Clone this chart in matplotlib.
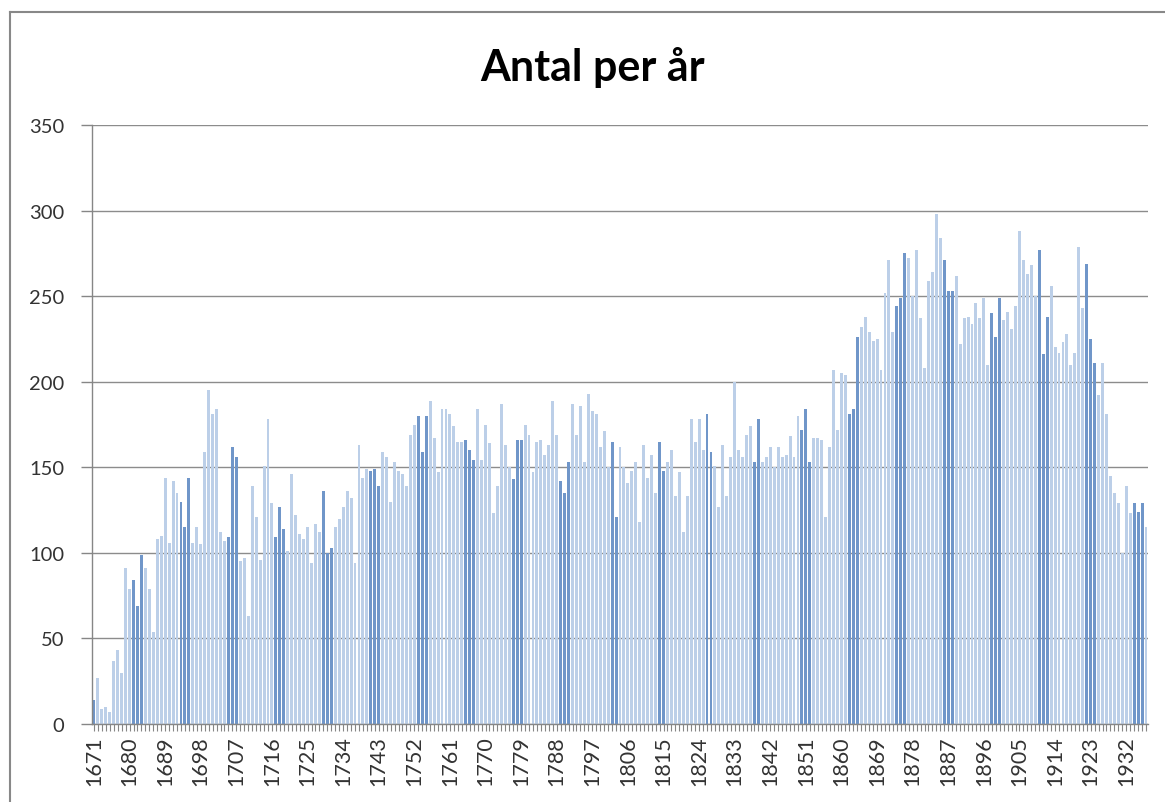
import matplotlib
matplotlib.use("Agg")
import matplotlib.pyplot as plt
from matplotlib.lines import Line2D

years = list(range(1671, 1938))
counts = [
    14, 27, 9, 10, 7, 37, 43, 30, 91, 79,            # 1671-1680
    84, 69, 99, 91, 79, 54, 108, 110, 144, 106,      # 1681-1690
    142, 135, 130, 115, 144, 106, 115, 105, 159, 195,  # 1691-1700
    181, 184, 112, 107, 109, 162, 156, 95, 97, 63,   # 1701-1710
    139, 121, 96, 151, 178, 129, 109, 127, 114, 101,  # 1711-1720
    146, 122, 111, 108, 115, 94, 117, 112, 136, 100,  # 1721-1730
    103, 115, 120, 127, 136, 132, 94, 163, 144, 149,  # 1731-1740
    148, 149, 139, 159, 156, 130, 153, 148, 146, 139,  # 1741-1750
    169, 175, 180, 159, 180, 189, 167, 147, 184, 184,  # 1751-1760
    181, 174, 165, 165, 166, 160, 154, 184, 154, 175,  # 1761-1770
    164, 123, 139, 187, 163, 150, 143, 166, 166, 175,  # 1771-1780
    169, 147, 165, 166, 157, 163, 189, 169, 142, 135,  # 1781-1790
    153, 187, 169, 186, 153, 193, 183, 181, 162, 171,  # 1791-1800
    150, 165, 121, 162, 150, 141, 148, 153, 118, 163,  # 1801-1810
    144, 157, 135, 165, 148, 153, 160, 133, 147, 112,  # 1811-1820
    133, 178, 165, 178, 160, 181, 159, 151, 127, 163,  # 1821-1830
    133, 156, 200, 160, 156, 169, 174, 153, 178, 153,  # 1831-1840
    156, 162, 150, 162, 156, 157, 168, 156, 180, 172,  # 1841-1850
    184, 153, 167, 167, 166, 121, 162, 207, 172, 205,  # 1851-1860
    204, 181, 184, 226, 232, 238, 229, 224, 225, 207,  # 1861-1870
    252, 271, 229, 244, 249, 275, 272, 250, 277, 237,  # 1871-1880
    208, 259, 264, 298, 284, 271, 253, 253, 262, 222,  # 1881-1890
    237, 238, 234, 246, 237, 249, 210, 240, 226, 249,  # 1891-1900
    236, 241, 231, 244, 288, 271, 263, 268, 250, 277,  # 1901-1910
    216, 238, 256, 220, 217, 223, 228, 210, 217, 279,  # 1911-1920
    243, 269, 225, 211, 192, 211, 181, 145, 135, 129,  # 1921-1930
    100, 139, 123, 129, 124, 129, 115,               # 1931-1937
]
tick_years = years[::9]
y_ticks = [0, 50, 100, 150, 200, 250, 300, 350]
title = "Antal per år"

# styling: years rendered darker in the reference (aliasing pattern)
dark_years = {1671, 1681, 1682, 1683, 1693, 1694, 1695, 1705, 1706, 1707,
              1717, 1718, 1719, 1729, 1730, 1731, 1741, 1742, 1743,
              1753, 1754, 1755, 1765, 1766, 1767, 1777, 1778, 1779,
              1789, 1790, 1791, 1802, 1803, 1814, 1815, 1826, 1827,
              1838, 1839, 1850, 1851, 1852, 1862, 1863, 1864,
              1874, 1875, 1876, 1886, 1887, 1888, 1898, 1899, 1900,
              1910, 1911, 1912, 1922, 1923, 1924, 1934, 1935, 1936}
light_c = "#bccfe8"
dark_c = "#7096c9"
colors = [dark_c if y in dark_years else light_c for y in years]

plt.rcParams['font.family'] = ['Lato', 'DejaVu Sans']

W, H = 1165, 803
fig = plt.figure(figsize=(W / 100, H / 100), dpi=100)
ax = fig.add_axes([92 / W, 1 - 725 / H, (1148 - 92) / W, (725 - 126) / H])

ax.bar(years, counts, width=0.74, color=colors, edgecolor='none', zorder=2)

ax.set_ylim(0, 350)
ax.set_xlim(years[0] - 0.5, years[-1] + 0.5)
ax.set_yticks(y_ticks)
ax.set_yticklabels([str(v) for v in y_ticks], fontsize=14.5, color='#333333')
ax.set_xticks(tick_years)
ax.set_xticklabels([str(y) for y in tick_years], rotation=90, fontsize=15.5, color='#333333')
ax.set_xticks(years, minor=True)
ax.tick_params(axis='y', length=8, width=1, color='#868686', pad=12)
ax.tick_params(axis='x', which='both', length=5, width=0.8, color='#868686', pad=3)

ax.grid(axis='y', color='#8c8c8c', linewidth=1.0, zorder=1)
ax.set_axisbelow(True)
for s in ['top', 'right']:
    ax.spines[s].set_visible(False)
for s in ['left', 'bottom']:
    ax.spines[s].set_color('#868686')
    ax.spines[s].set_linewidth(1.0)

fig.text(593 / W, 1 - 68 / H, title, ha='center', va='center',
         fontsize=31, fontweight='bold', color='black')

# chart border (left and top edges visible in the reference)
fig.add_artist(Line2D([10 / W, 10 / W], [0, 1 - 13 / H], transform=fig.transFigure,
                      color='#888888', linewidth=1.5))
fig.add_artist(Line2D([10 / W, 1], [1 - 13 / H, 1 - 13 / H], transform=fig.transFigure,
                      color='#888888', linewidth=1.5))

fig.savefig("out.png", dpi=100, facecolor='white')
